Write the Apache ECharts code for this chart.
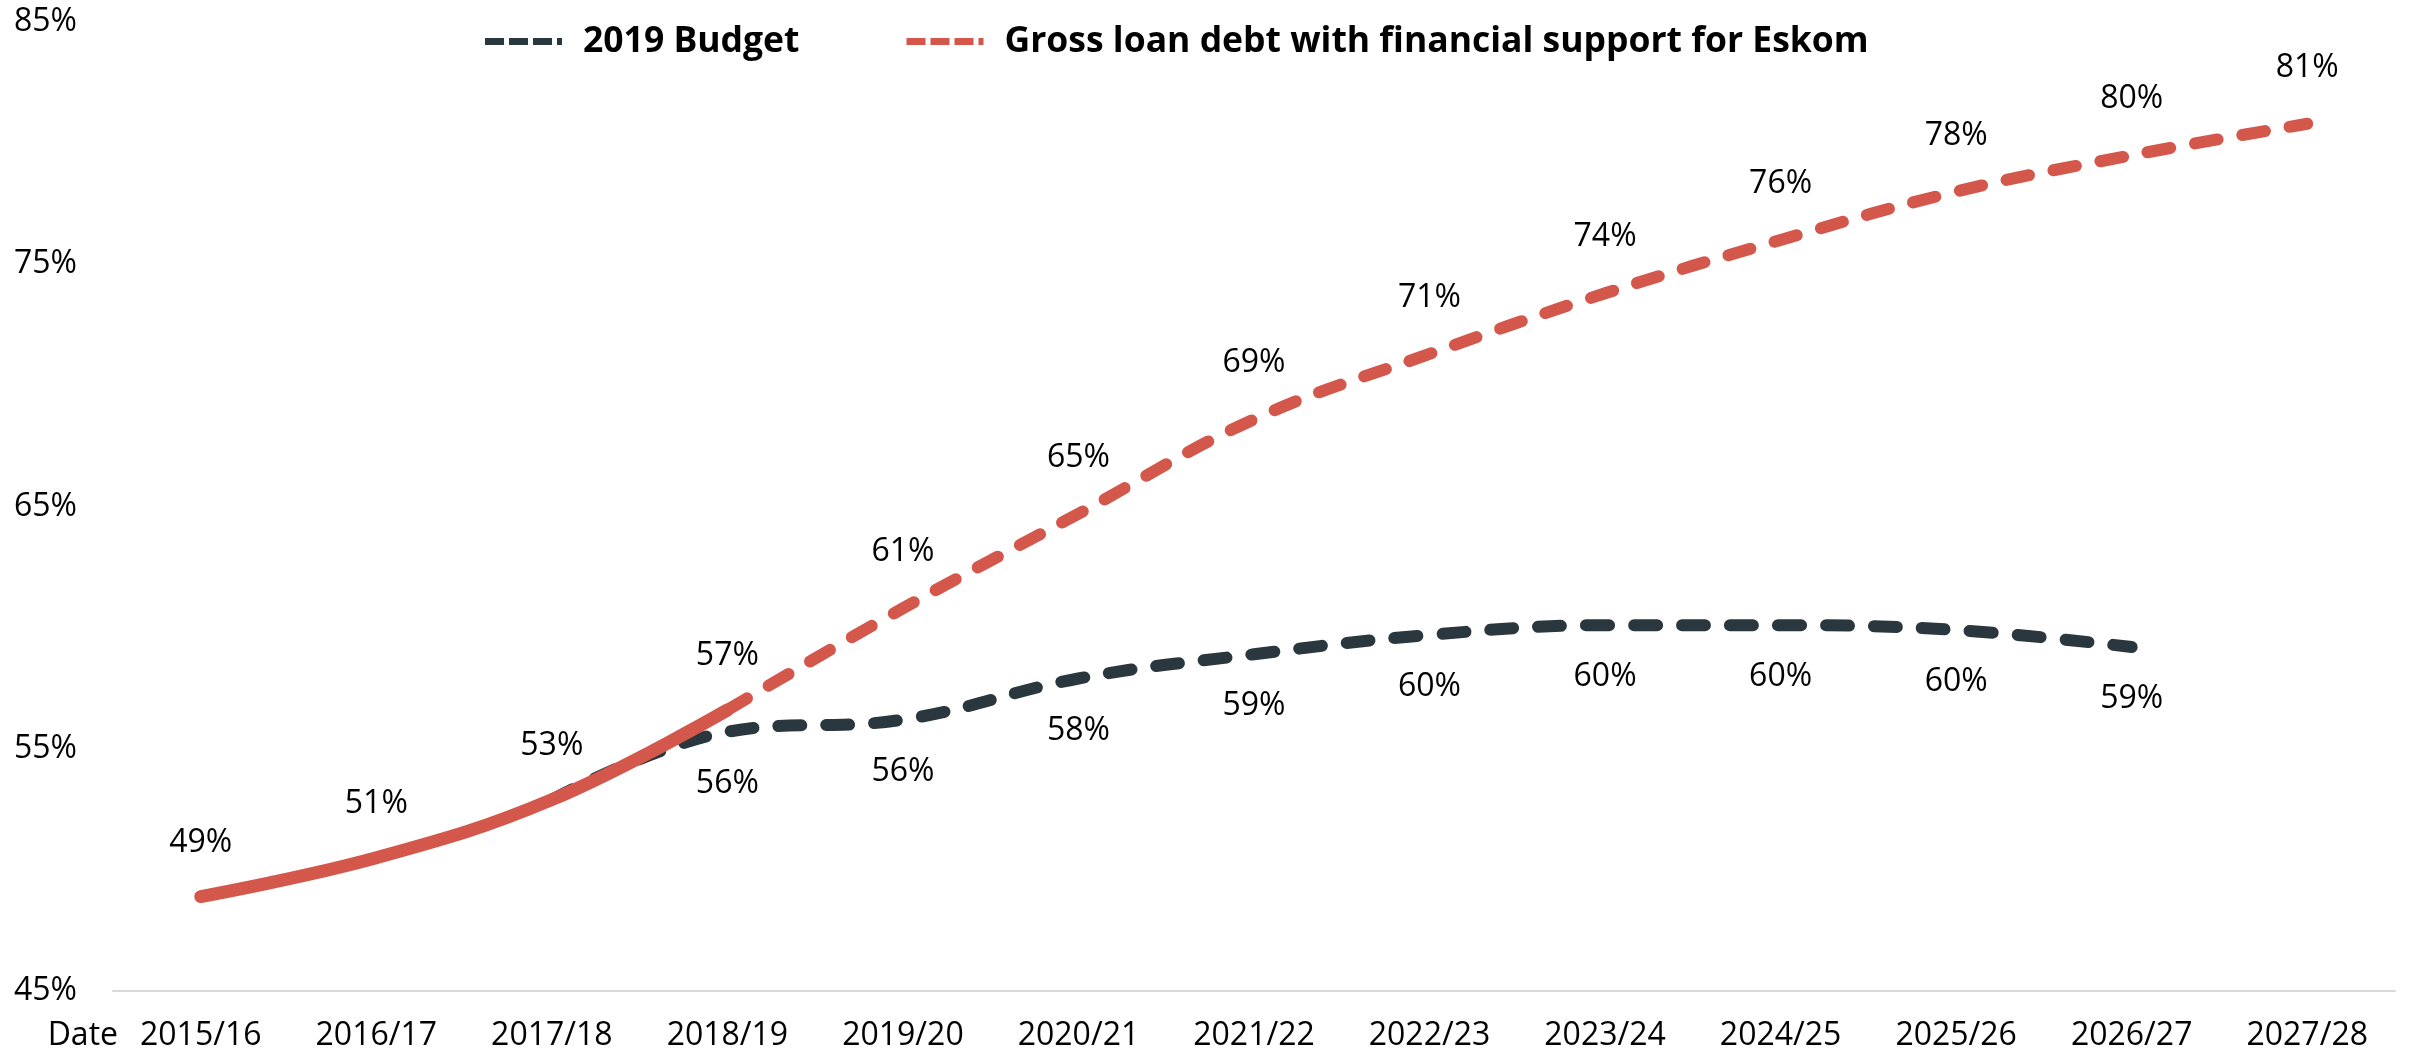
<!DOCTYPE html>
<html>
<head>
<meta charset="utf-8">
<title>Gross loan debt projections</title>
<script src="https://cdn.jsdelivr.net/npm/echarts@6/dist/echarts.min.js"></script>
<style>
  html, body { margin: 0; padding: 0; background: #ffffff; }
  #chart { width: 2412px; height: 1058px; }
</style>
</head>
<body>
<div id="chart"></div>
<script>
// Fiscal years on the category axis
const categories = ['2015/16', '2016/17', '2017/18', '2018/19', '2019/20', '2020/21', '2021/22',
                    '2022/23', '2023/24', '2024/25', '2025/26', '2026/27', '2027/28'];

// Gross loan debt, % of GDP
const outcomeYears = ['2015/16', '2016/17', '2017/18', '2018/19'];
const outcomeDebt = [48.9, 50.5, 52.9, 56.6];

const eskomYears = ['2018/19', '2019/20', '2020/21', '2021/22', '2022/23', '2023/24',
                    '2024/25', '2025/26', '2026/27', '2027/28'];
const eskomDebt = [56.6, 60.8, 64.7, 68.6, 71.3, 73.8, 76.0, 78.0, 79.5, 80.8];

const budgetYears = ['2017/18', '2018/19', '2019/20', '2020/21', '2021/22', '2022/23',
                     '2023/24', '2024/25', '2025/26', '2026/27'];
const budgetDebt = [52.9, 55.7, 56.2, 57.9, 58.9, 59.7, 60.1, 60.1, 59.9, 59.2];

// Y axis range and step
const yMin = 45, yMax = 85, yStep = 10;

const RED = '#D4574B';
const DARK = '#2B373F';
const FONT = 'Open Sans';

// Legend swatch: three dashes and a stub
const DASH_ICON = 'path://M0,0H19V7H0Z M24,0H43V7H24Z M48,0H67V7H48Z M72,0H77V7H72Z';

// Place a partial series on the full category axis
function onAxis(years, values) {
  return categories.map(c => {
    const i = years.indexOf(c);
    return i < 0 ? null : values[i];
  });
}

// Percent label, hidden on the joining point shared with another series
function pctLabel(skipYear) {
  return p => (p.name === skipYear || p.value == null) ? '' : Math.round(p.value) + '%';
}

const labelText = { fontFamily: FONT, fontSize: 32, color: '#000000' };

const chart = echarts.init(document.getElementById('chart'), null, { renderer: 'canvas' });

chart.setOption({
  animation: false,
  backgroundColor: '#ffffff',
  textStyle: { fontFamily: FONT },
  legend: {
    data: [
      { name: '2019 Budget', icon: DASH_ICON },
      { name: 'Gross loan debt with financial support for Eskom', icon: DASH_ICON }
    ],
    left: 480,
    top: 18,
    itemWidth: 77,
    itemHeight: 7,
    itemGap: 107,
    textStyle: {
      fontFamily: FONT, fontSize: 35.5, fontWeight: 'bold', color: '#000000',
      lineHeight: 37, padding: [0, 0, 0, 16]
    }
  },
  grid: { left: 113, right: 17, top: 22, bottom: 67, containLabel: false },
  xAxis: {
    type: 'category',
    data: categories,
    boundaryGap: true,
    name: 'Date',
    nameLocation: 'start',
    nameGap: -5,
    nameTextStyle: {
      fontFamily: FONT, fontSize: 32, color: '#000000',
      align: 'right', verticalAlign: 'top', padding: [29, 0, 0, 0]
    },
    axisLine: { show: true, lineStyle: { color: '#D9D9D9', width: 2 } },
    axisTick: { show: false },
    axisLabel: { fontFamily: FONT, fontSize: 32, color: '#000000', margin: 29 },
    splitLine: { show: false }
  },
  yAxis: {
    type: 'value',
    min: yMin,
    max: yMax,
    interval: yStep,
    axisLine: { show: false },
    axisTick: { show: false },
    splitLine: { show: false },
    axisLabel: {
      fontFamily: FONT, fontSize: 32, color: '#000000', margin: 36,
      formatter: v => v + '%'
    }
  },
  series: [
    {
      name: '2019 Budget',
      type: 'line',
      data: onAxis(budgetYears, budgetDebt),
      smooth: 0.4,
      symbol: 'circle',
      symbolSize: 0,
      showSymbol: true,
      z: 2,
      lineStyle: { color: DARK, width: 12, type: [23, 25], cap: 'round', join: 'round' },
      itemStyle: { color: DARK },
      label: Object.assign({
        show: true, position: 'bottom', distance: 36,
        formatter: pctLabel(budgetYears[0])
      }, labelText)
    },
    {
      name: 'Gross loan debt with financial support for Eskom',
      type: 'line',
      data: onAxis(eskomYears, eskomDebt),
      smooth: 0.4,
      symbol: 'circle',
      symbolSize: 0,
      showSymbol: true,
      z: 3,
      lineStyle: { color: RED, width: 12, type: [23, 25], cap: 'round', join: 'round' },
      itemStyle: { color: RED },
      label: Object.assign({
        show: true, position: 'top', distance: 40,
        formatter: pctLabel(eskomYears[0])
      }, labelText)
    },
    {
      name: 'Gross loan debt',
      type: 'line',
      data: onAxis(outcomeYears, outcomeDebt),
      smooth: 0.4,
      symbol: 'circle',
      symbolSize: 0,
      showSymbol: true,
      z: 4,
      lineStyle: { color: RED, width: 13, type: 'solid', cap: 'round', join: 'round' },
      itemStyle: { color: RED },
      label: Object.assign({
        show: true, position: 'top', distance: 38,
        formatter: pctLabel(null)
      }, labelText)
    }
  ]
});
</script>
</body>
</html>
